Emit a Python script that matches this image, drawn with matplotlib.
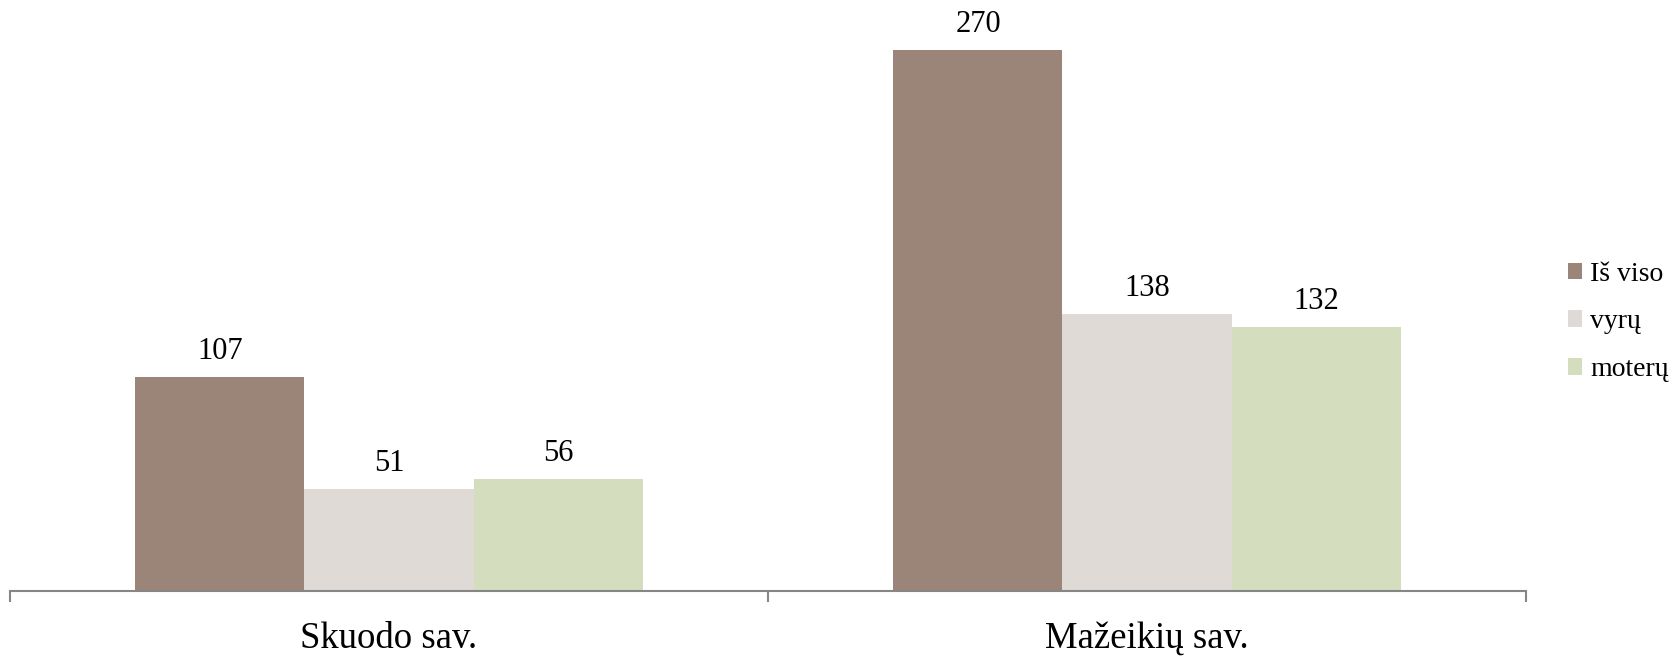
import matplotlib
matplotlib.use("Agg")
import matplotlib.pyplot as plt
import matplotlib.transforms as mtransforms
import numpy as np

categories = ["Skuodo sav.", "Mažeikių sav."]
series_names = ["Iš viso", "vyrų", "moterų"]
values = {
    "Iš viso": [107, 270],
    "vyrų": [51, 138],
    "moterų": [56, 132],
}
colors = ["#9B8578", "#DFDAD6", "#D4DEBE"]

plt.rcParams['font.family'] = ['Liberation Serif', 'DejaVu Serif']

W, H = 1676, 657
fig = plt.figure(figsize=(W / 100, H / 100), dpi=100)
ax_left, ax_right, ax_bottom = 10, 1526, 591
ax = fig.add_axes([ax_left / W, (H - ax_bottom) / H, (ax_right - ax_left) / W, ax_bottom / H])

px_per_unit = (591 - 50) / 270.0
ax.set_ylim(0, ax_bottom / px_per_unit)
ax.set_xlim(-0.5, len(categories) - 0.5)

x = np.arange(len(categories))
bw = 0.223
handles = []
for i, name in enumerate(series_names):
    pos = x + (i - 1) * bw
    b = ax.bar(pos, values[name], width=bw, color=colors[i], label=name, linewidth=0)
    handles.append(b)
    for xp, v in zip(pos, values[name]):
        ax.annotate(str(v), (xp, v), xytext=(0, 18 * 72 / 100), textcoords='offset points',
                    ha='center', va='baseline', fontsize=22, color='black')

for s in ['top', 'right', 'left']:
    ax.spines[s].set_visible(False)
ax.spines['bottom'].set_color('#868686')
ax.spines['bottom'].set_linewidth(1.5)
ax.set_yticks([])
ax.set_xticks(np.arange(-0.5, len(categories), 1.0))
ax.set_xticklabels([])
ax.tick_params(axis='x', length=11 * 72 / 100, width=1.5, color='#868686', direction='out')

trans = mtransforms.offset_copy(ax.get_xaxis_transform(), fig=fig, y=-57, units='dots')
for xi, c in zip(x, categories):
    ax.text(xi, 0, c, transform=trans, ha='center', va='baseline', fontsize=26.5, color='black')

fs = 20
fsp = fs * 100 / 72
fig.legend(handles=handles, labels=series_names, loc='center left',
           bbox_to_anchor=(1568 / W, (H - 322) / H), bbox_transform=fig.transFigure,
           frameon=False, fontsize=fs, borderpad=0, borderaxespad=0,
           handlelength=14 / fsp, handleheight=15 / fsp, handletextpad=8 / fsp,
           labelspacing=0.82)

fig.savefig("out.png", dpi=100)
